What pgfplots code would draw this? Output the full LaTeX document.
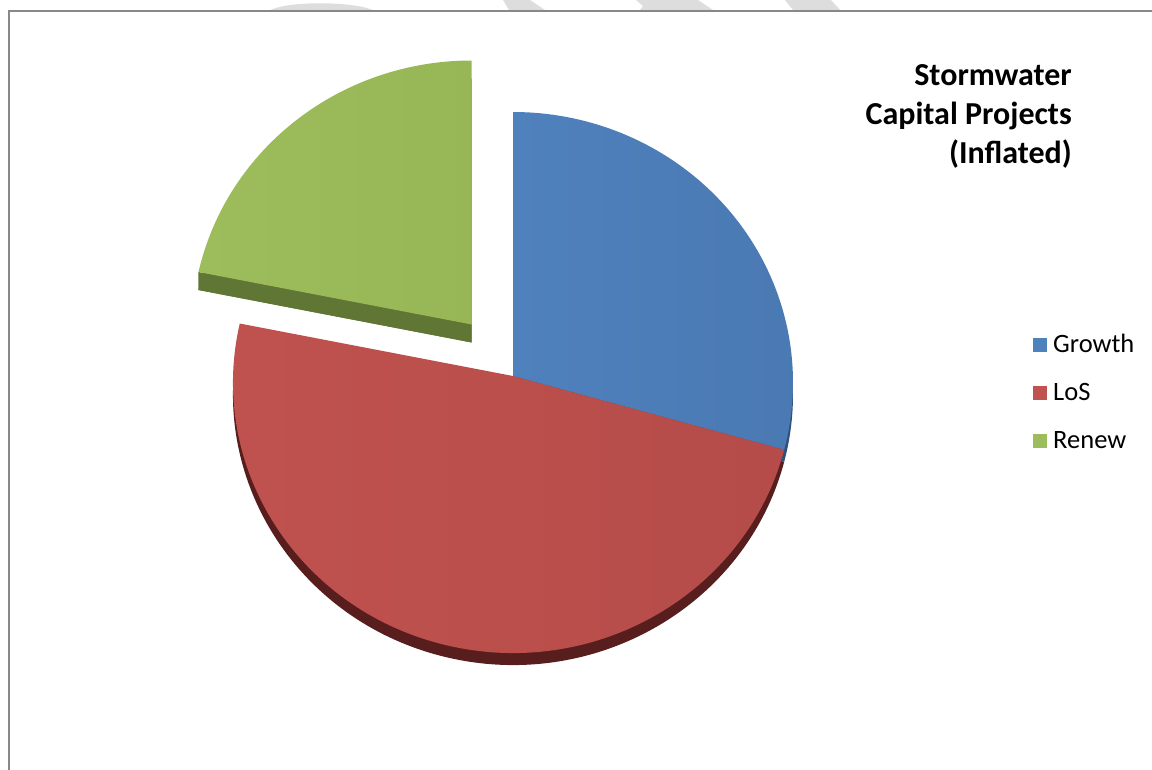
\documentclass[border=0pt]{standalone}
\usepackage{pgfplots}
\pgfplotsset{compat=1.18}
\usepackage{pgfplotstable}
\usepackage{fontspec}
\setmainfont{Carlito}
\definecolor{cGrowth}{RGB}{79,129,189}
\definecolor{cGrowthB}{RGB}{74,121,178}
\definecolor{cGrowthD}{RGB}{47,80,120}
\definecolor{cLoS}{RGB}{192,82,79}
\definecolor{cLoSB}{RGB}{181,76,73}
\definecolor{cLoSD}{RGB}{88,30,30}
\definecolor{cRenew}{RGB}{157,189,92}
\definecolor{cRenewB}{RGB}{151,183,87}
\definecolor{cRenewD}{RGB}{96,118,52}
\definecolor{frame}{RGB}{136,136,136}
\definecolor{wm}{RGB}{221,221,221}
% shares in percent
\pgfplotstableread{
name   value
Growth 29
LoS    49.5
Renew  21.5
}\piedata
\begin{document}
\begin{tikzpicture}
\pgfplotstablegetelem{0}{value}\of\piedata\let\vG\pgfplotsretval
\pgfplotstablegetelem{1}{value}\of\piedata\let\vL\pgfplotsretval
\pgfplotstablegetelem{2}{value}\of\piedata\let\vR\pgfplotsretval
\pgfmathsetmacro{\tot}{\vG+\vL+\vR}
\pgfmathsetmacro{\aA}{90}
\pgfmathsetmacro{\aB}{90-\vG/\tot*360}
\pgfmathsetmacro{\aC}{\aB-\vL/\tot*360}
\pgfmathsetmacro{\aD}{\aC-\vR/\tot*360}
\pgfmathsetmacro{\aM}{(\aC+\aD)/2}
\begin{axis}[
  at={(0,0)}, anchor=south west,
  scale only axis, width=1152bp, height=770bp,
  xmin=0, xmax=1152, ymin=0, ymax=770, y dir=reverse,
  enlargelimits=false, hide axis, clip=true]
% watermark fragments above frame
\fill[wm] (axis cs:270,10) .. controls (axis cs:290,1) and (axis cs:350,1) .. (axis cs:373,10) -- cycle;
\fill[wm] (axis cs:503,0) -- (axis cs:530,0) -- (axis cs:545,10) -- (axis cs:509,10) -- cycle;
\fill[wm] (axis cs:636,0) -- (axis cs:698,0) -- (axis cs:713,10) -- (axis cs:640,10) -- (axis cs:643,6) -- cycle;
\fill[wm] (axis cs:785,0) -- (axis cs:831,0) -- (axis cs:840,10) -- (axis cs:793,10) -- cycle;
% frame
\draw[frame, line width=2bp] (axis cs:9,770) -- (axis cs:9,11) -- (axis cs:1152,11);
% ---- pie: apex (513,376), ellipse centre (513,382.5)
% LoS depth
\fill[cLoSD] ([yshift=-12bp]axis cs:513,376) -- ([yshift=-12bp,shift={(\aB:280bp and 270.5bp)}]axis cs:513,382.5) arc[start angle=\aB, end angle=\aC, x radius=280bp, y radius=270.5bp] -- cycle;
% Growth depth
\fill[cGrowthD] ([yshift=-12bp]axis cs:513,376) -- ([yshift=-12bp,shift={(\aA:280bp and 270.5bp)}]axis cs:513,382.5) arc[start angle=\aA, end angle=\aB, x radius=280bp, y radius=270.5bp] -- cycle;
% Growth top
\shade[left color=cGrowth, right color=cGrowthB] (axis cs:513,376) -- ([shift={(\aA:280bp and 270.5bp)}]axis cs:513,382.5) arc[start angle=\aA, end angle=\aB, x radius=280bp, y radius=270.5bp] -- cycle;
% LoS top
\shade[left color=cLoS, right color=cLoSB] (axis cs:513,376) -- ([shift={(\aB:280bp and 270.5bp)}]axis cs:513,382.5) arc[start angle=\aB, end angle=\aC, x radius=280bp, y radius=270.5bp] -- cycle;
% Renew (exploded by 66 along its bisector)
\fill[cRenewD] ([shift={(\aM:66bp)},yshift=-18bp]axis cs:513,376) -- ([shift={(\aM:66bp)},yshift=-18bp,shift={(\aC:280bp and 270.5bp)}]axis cs:513,382.5) arc[start angle=\aC, end angle=\aD, x radius=280bp, y radius=270.5bp] -- cycle;
\fill[cRenewD] ([shift={(\aM:66bp)},yshift=-18bp]axis cs:513,376) -- ([shift={(\aM:66bp)},yshift=-18bp,shift={(\aC:280bp and 270.5bp)}]axis cs:513,382.5) -- ++(0,18bp) -- ([shift={(\aM:66bp)}]axis cs:513,376) -- cycle;
\shade[left color=cRenew, right color=cRenewB] ([shift={(\aM:66bp)}]axis cs:513,376) -- ([shift={(\aM:66bp)},shift={(\aC:280bp and 270.5bp)}]axis cs:513,382.5) arc[start angle=\aC, end angle=\aD, x radius=280bp, y radius=270.5bp] -- cycle;
% title
\node[anchor=base east, align=right, font=\bfseries\fontsize{32bp}{39bp}\selectfont, inner sep=0pt]
  at (axis cs:1072,163) {Stormwater\\Capital Projects\\(Inflated)};
% legend
\fill[cGrowth] (axis cs:1033,338) rectangle (axis cs:1047,352);
\fill[cLoS]    (axis cs:1033,386) rectangle (axis cs:1047,400);
\fill[cRenew]  (axis cs:1033,434) rectangle (axis cs:1047,448);
\node[anchor=base west, inner sep=0pt, font=\fontsize{26.5bp}{30bp}\selectfont] at (axis cs:1053,352) {Growth};
\node[anchor=base west, inner sep=0pt, font=\fontsize{26.5bp}{30bp}\selectfont] at (axis cs:1053,400) {LoS};
\node[anchor=base west, inner sep=0pt, font=\fontsize{26.5bp}{30bp}\selectfont] at (axis cs:1053,448) {Renew};
\end{axis}
\pgfresetboundingbox
\path[use as bounding box] (0,0) rectangle (1152bp,770bp);
\end{tikzpicture}
\end{document}
